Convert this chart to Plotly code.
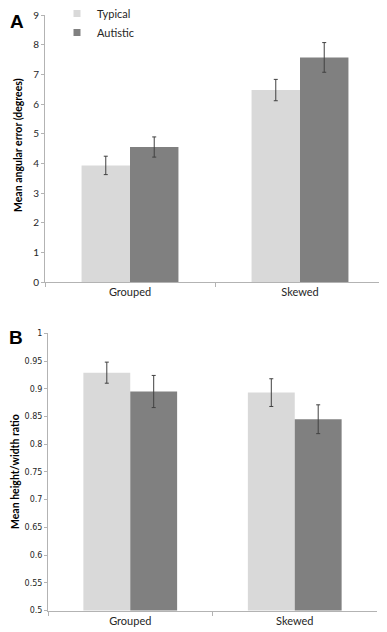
import plotly.graph_objects as go

categories = ["Grouped", "Skewed"]
series_names = ["Typical", "Autistic"]

# Panel A: mean angular error (degrees)
a_typical = [3.93, 6.47]
a_typical_err = [0.31, 0.36]
a_autistic = [4.55, 7.57]
a_autistic_err = [0.34, 0.50]
a_ticks = [0, 1, 2, 3, 4, 5, 6, 7, 8, 9]

# Panel B: mean height/width ratio
b_typical = [0.929, 0.893]
b_typical_err = [0.019, 0.025]
b_autistic = [0.895, 0.845]
b_autistic_err = [0.029, 0.026]
b_ticks = [0.5, 0.55, 0.6, 0.65, 0.7, 0.75, 0.8, 0.85, 0.9, 0.95, 1]
b_ticklabels = ["0.5", "0.55", "0.6", "0.65", "0.7", "0.75", "0.8", "0.85", "0.9", "0.95", "1"]

C_TYP = "#d9d9d9"
C_AUT = "#808080"
ERR = "#404040"
AX = "#b3b3b3"

# the page body has an 8px margin, so the figure is sized to fill the rest of the window
OFF = 8
W, H = 387 - OFF, 632 - OFF


def px_x(p):
    return (p - OFF) / W


def px_y(p):
    return 1 - (p - OFF) / H


fig = go.Figure()


def add_bars(xa, ya, typ, typ_err, aut, aut_err):
    fig.add_trace(go.Bar(
        x=categories, y=typ, name=series_names[0], marker_color=C_TYP,
        marker_line_width=0, showlegend=False, xaxis=xa, yaxis=ya,
        error_y=dict(type="data", array=typ_err, color=ERR, thickness=1, width=2),
    ))
    fig.add_trace(go.Bar(
        x=categories, y=aut, name=series_names[1], marker_color=C_AUT,
        marker_line_width=0, showlegend=False, xaxis=xa, yaxis=ya,
        error_y=dict(type="data", array=aut_err, color=ERR, thickness=1, width=2),
    ))


add_bars("x", "y", a_typical, a_typical_err, a_autistic, a_autistic_err)
add_bars("x2", "y2", b_typical, b_typical_err, b_autistic, b_autistic_err)

# legend entries (small squares like the original)
for name, col in zip(series_names, [C_TYP, C_AUT]):
    fig.add_trace(go.Scatter(
        x=[None], y=[None], mode="markers", name=name,
        marker=dict(symbol="square", size=7, color=col),
        xaxis="x", yaxis="y", showlegend=True,
    ))

tickfont_a = dict(family="Lato, Open Sans, sans-serif", size=10, color="#262626")
tickfont_b = dict(family="DejaVu Sans, Verdana, sans-serif", size=8, color="#262626")
xfont = dict(family="Lato, Open Sans, sans-serif", size=11, color="#262626")

common_x = dict(showgrid=False, showline=True, linecolor=AX, linewidth=1,
                ticks="outside", ticklen=4, tickcolor=AX, tickson="boundaries",
                tickfont=xfont, fixedrange=True)
common_y = dict(showgrid=False, showline=True, linecolor=AX, linewidth=1,
                ticks="outside", ticklen=3, tickcolor=AX, zeroline=False)


def ann(text, x, y, size, family, angle=0):
    return dict(text=text, x=px_x(x), y=px_y(y), xref="paper", yref="paper",
                xanchor="center", yanchor="middle", showarrow=False, textangle=angle,
                font=dict(family=family, size=size, color="black"))


fig.update_layout(
    width=W, height=H,
    margin=dict(l=0, r=0, t=0, b=0, autoexpand=False),
    paper_bgcolor="white", plot_bgcolor="white",
    barmode="group", bargap=0.43, bargroupgap=0,
    xaxis=dict(domain=[px_x(45), px_x(385)], anchor="y", **common_x),
    yaxis=dict(domain=[px_y(282), px_y(15)], anchor="x", range=[0, 9],
               tickvals=a_ticks, tickfont=tickfont_a, **common_y),
    xaxis2=dict(domain=[px_x(48), px_x(377)], anchor="y2", **common_x),
    yaxis2=dict(domain=[px_y(610.5), px_y(333.3)], anchor="x2", range=[0.5, 1],
                tickvals=b_ticks, ticktext=b_ticklabels, tickfont=tickfont_b, **common_y),
    showlegend=True,
    legend=dict(x=px_x(57), y=px_y(-1), xanchor="left", yanchor="top",
                bgcolor="rgba(0,0,0,0)", font=dict(family="Lato, Open Sans, sans-serif",
                                                  size=11, color="#262626"),
                itemwidth=30, tracegroupgap=0),
    annotations=[
        ann("<b>A</b>", 17, 21, 19, "Liberation Sans, Arial"),
        ann("<b>B</b>", 16, 337, 19, "Liberation Sans, Arial"),
        ann("<b>Mean angular error (degrees)</b>", 18, 145, 10.5,
            "Lato, Open Sans, sans-serif", -90),
        ann("<b>Mean height/width ratio</b>", 15, 472, 10.5,
            "Lato, Open Sans, sans-serif", -90),
    ],
)

fig.write_html("out.html")
